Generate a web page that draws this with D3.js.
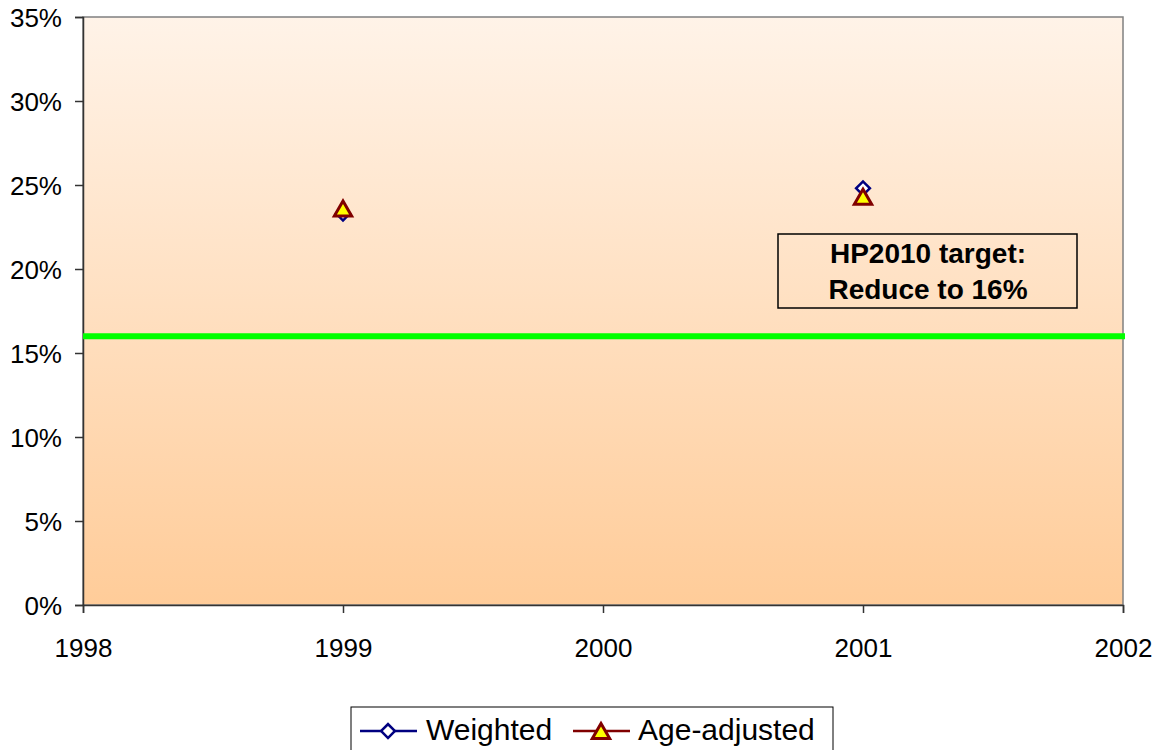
<!DOCTYPE html>
<html>
<head>
<meta charset="utf-8">
<script src="https://cdn.jsdelivr.net/npm/d3@7"></script>
<style>
  body { margin: 0; background: #fff; }
  text { font-family: Arial, "Liberation Sans", sans-serif; }
</style>
</head>
<body>
<svg id="chart"></svg>
<script>
var years = [1999, 2001];
var weighted = [23.3, 24.8];
var ageAdjusted = [23.6, 24.3];
var target = 16;
var xTicks = [1998, 1999, 2000, 2001, 2002];
var yTicks = [0, 5, 10, 15, 20, 25, 30, 35];

var width = 1166, height = 750;
var margin = { top: 17, right: 43, bottom: 145, left: 83 };

var svg = d3.select("#chart").attr("width", width).attr("height", height);

var x = d3.scaleLinear().domain([1998, 2002]).range([margin.left, width - margin.right]);
var y = d3.scaleLinear().domain([0, 35]).range([height - margin.bottom, margin.top]);

var defs = svg.append("defs");
var grad = defs.append("linearGradient")
  .attr("id", "bg").attr("x1", 0).attr("y1", 0).attr("x2", 0).attr("y2", 1);
grad.append("stop").attr("offset", "0%").attr("stop-color", "#fff3e8");
grad.append("stop").attr("offset", "100%").attr("stop-color", "#ffcc99");

// plot area
svg.append("rect")
  .attr("x", x(1998)).attr("y", y(35))
  .attr("width", x(2002) - x(1998)).attr("height", y(0) - y(35))
  .attr("fill", "url(#bg)")
  .attr("stroke", "#808080").attr("stroke-width", 1.5);

// axes
var yAxis = d3.axisLeft(y).tickValues(yTicks).tickSize(8).tickFormat(d => d + "%");
var gy = svg.append("g").attr("transform", `translate(${x(1998)},0)`).call(yAxis);
gy.attr("font-size", null).attr("font-family", null);
gy.select(".domain").attr("stroke", "#333").attr("stroke-width", 1.5);
gy.selectAll(".tick line").attr("stroke", "#333").attr("stroke-width", 1.5);
gy.selectAll(".tick text")
  .style("font-size", "26px").attr("fill", "#000")
  .attr("x", -21).attr("dy", "0.35em");

var xAxis = d3.axisBottom(x).tickValues(xTicks).tickSize(8).tickFormat(d3.format("d"));
var gx = svg.append("g").attr("transform", `translate(0,${y(0)})`).call(xAxis);
gx.attr("font-size", null).attr("font-family", null);
gx.select(".domain").attr("stroke", "#333").attr("stroke-width", 1.5);
gx.selectAll(".tick line").attr("stroke", "#333").attr("stroke-width", 1.5);
gx.selectAll(".tick text")
  .style("font-size", "26px").attr("fill", "#000")
  .attr("y", 52).attr("dy", 0);

// target line
svg.append("line")
  .attr("x1", x(1998)).attr("x2", x(2002) + 2)
  .attr("y1", y(target)).attr("y2", y(target))
  .attr("stroke", "#00ff00").attr("stroke-width", 6);

// annotation
var box = svg.append("g").attr("transform", "translate(778,234)");
box.append("rect").attr("width", 299).attr("height", 74)
  .attr("fill", "none").attr("stroke", "#000").attr("stroke-width", 1.5);
box.append("text").attr("x", 150).attr("y", 29).attr("text-anchor", "middle")
  .style("font-size", "28px").attr("font-weight", "bold").text("HP2010 target:");
box.append("text").attr("x", 150).attr("y", 65).attr("text-anchor", "middle")
  .style("font-size", "28px").attr("font-weight", "bold").text("Reduce to 16%");

var diamond = d3.symbol().type(d3.symbolSquare).size(95);
var triangle = d3.symbol().type(d3.symbolTriangle).size(130);
var triShift = Math.sqrt(130 / (3 * Math.sqrt(3))) / 2;

function drawDiamond(g, cx, cy) {
  g.append("path").attr("d", diamond())
    .attr("transform", `translate(${cx},${cy}) rotate(45)`)
    .attr("fill", "#fff").attr("stroke", "#000080").attr("stroke-width", 2.5);
}
function drawTriangle(g, cx, cy) {
  g.append("path").attr("d", triangle())
    .attr("transform", `translate(${cx},${cy + triShift})`)
    .attr("fill", "#ffff00").attr("stroke", "#800000").attr("stroke-width", 3)
    .attr("stroke-linejoin", "miter");
}

years.forEach((yr, i) => {
  drawDiamond(svg, x(yr), y(weighted[i]));
});
years.forEach((yr, i) => {
  drawTriangle(svg, x(yr), y(ageAdjusted[i]));
});

// legend
var lg = svg.append("g").attr("transform", "translate(351,707)");
lg.append("rect").attr("width", 482).attr("height", 50)
  .attr("fill", "#fff").attr("stroke", "#000").attr("stroke-width", 1);
lg.append("line").attr("x1", 9).attr("x2", 66).attr("y1", 24).attr("y2", 24)
  .attr("stroke", "#000080").attr("stroke-width", 2.5);
drawDiamond(lg, 37, 24);
lg.append("text").attr("x", 75).attr("y", 33).style("font-size", "30px").text("Weighted");
lg.append("line").attr("x1", 222).attr("x2", 279).attr("y1", 24).attr("y2", 24)
  .attr("stroke", "#800000").attr("stroke-width", 2.5);
drawTriangle(lg, 250, 24);
lg.append("text").attr("x", 287).attr("y", 33).style("font-size", "30px").text("Age-adjusted");
</script>
</body>
</html>
